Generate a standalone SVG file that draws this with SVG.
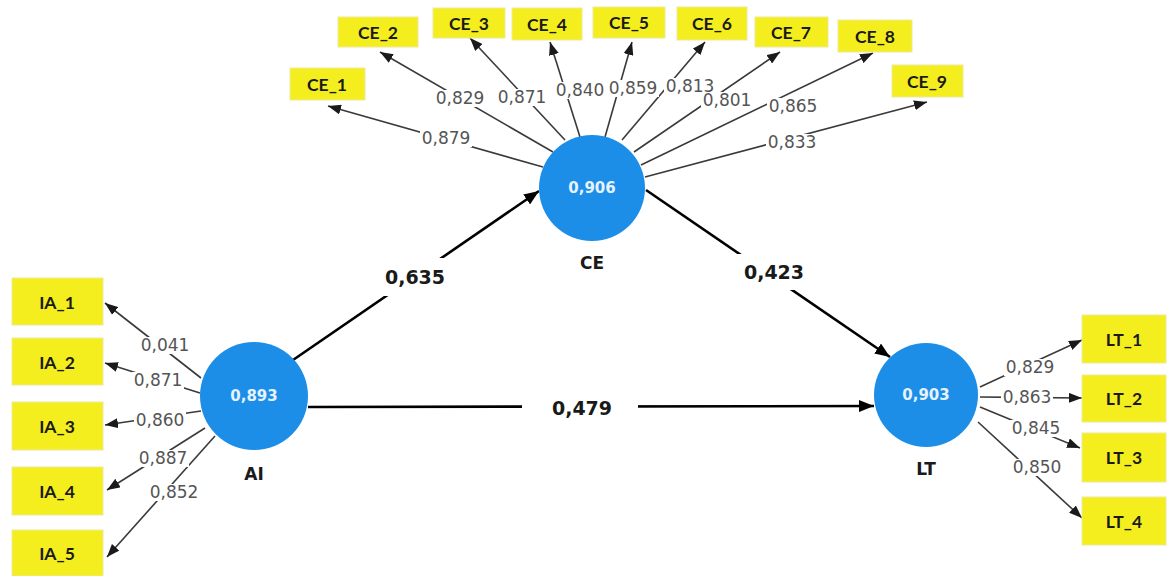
<svg xmlns="http://www.w3.org/2000/svg" width="1168" height="576" viewBox="0 0 1168 576">
<style>
.box{fill:#F4EE1E;stroke:#EDE99A;stroke-width:1}
.bt{font-family:Lato,"DejaVu Sans",sans-serif;font-weight:bold;font-size:17.5px;fill:#1a1a1a;text-anchor:middle;dominant-baseline:central}
.ln{stroke:#3a3a3a;stroke-width:1.6;fill:none}
.sl{stroke:#000;stroke-width:2.6;fill:none}
.bg{fill:#fff}
.lb{font-family:"DejaVu Sans",Verdana,sans-serif;font-size:17px;fill:#555;text-anchor:middle;dominant-baseline:central}
.pl{font-family:"DejaVu Sans",Verdana,sans-serif;font-weight:bold;font-size:19px;fill:#1a1a1a;text-anchor:middle;dominant-baseline:central}
.circ{fill:#1C8EE8}
.ct{font-family:"DejaVu Sans",Verdana,sans-serif;font-weight:bold;font-size:15px;fill:#E6F3FF;text-anchor:middle;dominant-baseline:central}
.cn{font-family:"DejaVu Sans",Verdana,sans-serif;font-weight:bold;font-size:17px;fill:#1a1a1a;text-anchor:middle;dominant-baseline:central}
</style>
<defs>
<marker id="a" markerUnits="userSpaceOnUse" markerWidth="13" markerHeight="10" refX="13" refY="5" orient="auto"><path d="M0,0 L13,5 L0,10 z" fill="#1a1a1a"/></marker>
<marker id="b" markerUnits="userSpaceOnUse" markerWidth="15" markerHeight="12" refX="15" refY="6" orient="auto"><path d="M0,0 L15,6 L0,12 z" fill="#000"/></marker>
</defs>
<rect width="1168" height="576" fill="#fff"/>
<g id="connectors">
<line class="ln" x1="543" y1="167" x2="328" y2="106" marker-end="url(#a)"/>
<line class="ln" x1="553" y1="152" x2="380" y2="52" marker-end="url(#a)"/>
<line class="ln" x1="565" y1="140" x2="470" y2="38" marker-end="url(#a)"/>
<line class="ln" x1="580" y1="137" x2="550" y2="42" marker-end="url(#a)"/>
<line class="ln" x1="605" y1="137" x2="632" y2="42" marker-end="url(#a)"/>
<line class="ln" x1="622" y1="140" x2="705" y2="42" marker-end="url(#a)"/>
<line class="ln" x1="634" y1="152" x2="780" y2="52" marker-end="url(#a)"/>
<line class="ln" x1="641" y1="165" x2="873" y2="53" marker-end="url(#a)"/>
<line class="ln" x1="645" y1="177" x2="927" y2="102" marker-end="url(#a)"/>
<line class="ln" x1="201" y1="378" x2="105" y2="303" marker-end="url(#a)"/>
<line class="ln" x1="200" y1="393" x2="105" y2="363" marker-end="url(#a)"/>
<line class="ln" x1="201" y1="411" x2="105" y2="425" marker-end="url(#a)"/>
<line class="ln" x1="205" y1="428" x2="107" y2="490" marker-end="url(#a)"/>
<line class="ln" x1="215" y1="436" x2="107" y2="557" marker-end="url(#a)"/>
<line class="ln" x1="980" y1="387" x2="1082" y2="340" marker-end="url(#a)"/>
<line class="ln" x1="980" y1="397" x2="1082" y2="398" marker-end="url(#a)"/>
<line class="ln" x1="980" y1="407" x2="1080" y2="448" marker-end="url(#a)"/>
<line class="ln" x1="978" y1="422" x2="1082" y2="518" marker-end="url(#a)"/>
<line class="sl" x1="293" y1="360" x2="539" y2="191" marker-end="url(#b)"/>
<line class="sl" x1="646" y1="190" x2="890" y2="357" marker-end="url(#b)"/>
<line class="sl" x1="308" y1="407" x2="874" y2="406" marker-end="url(#b)"/>
<rect class="bg" x="420" y="130" width="52" height="17"/>
<rect class="bg" x="434" y="90" width="52" height="17"/>
<rect class="bg" x="496" y="89" width="52" height="17"/>
<rect class="bg" x="554" y="82" width="52" height="17"/>
<rect class="bg" x="607" y="80" width="52" height="17"/>
<rect class="bg" x="664" y="78" width="52" height="17"/>
<rect class="bg" x="701" y="92" width="52" height="17"/>
<rect class="bg" x="767" y="98" width="52" height="17"/>
<rect class="bg" x="766" y="134" width="52" height="17"/>
<rect class="bg" x="139" y="337" width="52" height="17"/>
<rect class="bg" x="132" y="372" width="52" height="17"/>
<rect class="bg" x="134" y="412" width="52" height="17"/>
<rect class="bg" x="137" y="450" width="52" height="17"/>
<rect class="bg" x="148" y="484" width="52" height="17"/>
<rect class="bg" x="1004" y="359" width="52" height="17"/>
<rect class="bg" x="1001" y="389" width="52" height="17"/>
<rect class="bg" x="1010" y="420" width="52" height="17"/>
<rect class="bg" x="1011" y="459" width="52" height="17"/>
<rect class="bg" x="370" y="258" width="90" height="38"/>
<rect class="bg" x="732" y="254" width="84" height="36"/>
<rect class="bg" x="522" y="396" width="116" height="24"/>
<text class="lb" x="446" y="138">0,879</text>
<text class="lb" x="460" y="98">0,829</text>
<text class="lb" x="522" y="97">0,871</text>
<text class="lb" x="580" y="90">0,840</text>
<text class="lb" x="633" y="88">0,859</text>
<text class="lb" x="690" y="86">0,813</text>
<text class="lb" x="727" y="100">0,801</text>
<text class="lb" x="793" y="106">0,865</text>
<text class="lb" x="792" y="142">0,833</text>
<text class="lb" x="165" y="345">0,041</text>
<text class="lb" x="158" y="380">0,871</text>
<text class="lb" x="160" y="420">0,860</text>
<text class="lb" x="163" y="458">0,887</text>
<text class="lb" x="174" y="492">0,852</text>
<text class="lb" x="1030" y="367">0,829</text>
<text class="lb" x="1027" y="397">0,863</text>
<text class="lb" x="1036" y="428">0,845</text>
<text class="lb" x="1037" y="467">0,850</text>
<text class="pl" x="415" y="277">0,635</text>
<text class="pl" x="774" y="272">0,423</text>
<text class="pl" x="582" y="408">0,479</text>
</g>
<g id="CE"><circle class="circ" cx="592" cy="188" r="53"/><text class="ct" x="592" y="188">0,906</text><text class="cn" x="592" y="263">CE</text></g>
<g id="AI"><circle class="circ" cx="254" cy="396" r="54"/><text class="ct" x="254" y="396">0,893</text><text class="cn" x="254" y="474">AI</text></g>
<g id="LT"><circle class="circ" cx="926" cy="395" r="52"/><text class="ct" x="926" y="395">0,903</text><text class="cn" x="926" y="469">LT</text></g>
<g id="CE_1"><rect class="box" x="290" y="68" width="75" height="32"/><text class="bt" x="327" y="84">CE_1</text></g>
<g id="CE_2"><rect class="box" x="338" y="17" width="80" height="30"/><text class="bt" x="378" y="32">CE_2</text></g>
<g id="CE_3"><rect class="box" x="433" y="8" width="72" height="30"/><text class="bt" x="469" y="23">CE_3</text></g>
<g id="CE_4"><rect class="box" x="512" y="8" width="70" height="32"/><text class="bt" x="547" y="24">CE_4</text></g>
<g id="CE_5"><rect class="box" x="593" y="7" width="72" height="31"/><text class="bt" x="629" y="22">CE_5</text></g>
<g id="CE_6"><rect class="box" x="677" y="7" width="70" height="33"/><text class="bt" x="712" y="23">CE_6</text></g>
<g id="CE_7"><rect class="box" x="755" y="17" width="73" height="30"/><text class="bt" x="791" y="32">CE_7</text></g>
<g id="CE_8"><rect class="box" x="838" y="20" width="74" height="32"/><text class="bt" x="875" y="36">CE_8</text></g>
<g id="CE_9"><rect class="box" x="892" y="65" width="71" height="32"/><text class="bt" x="927" y="81">CE_9</text></g>
<g id="IA_1"><rect class="box" x="12" y="278" width="91" height="47"/><text class="bt" x="57" y="302">IA_1</text></g>
<g id="IA_2"><rect class="box" x="12" y="338" width="91" height="47"/><text class="bt" x="57" y="362">IA_2</text></g>
<g id="IA_3"><rect class="box" x="12" y="402" width="91" height="48"/><text class="bt" x="57" y="426">IA_3</text></g>
<g id="IA_4"><rect class="box" x="12" y="467" width="91" height="48"/><text class="bt" x="57" y="491">IA_4</text></g>
<g id="IA_5"><rect class="box" x="12" y="530" width="91" height="46"/><text class="bt" x="57" y="553">IA_5</text></g>
<g id="LT_1"><rect class="box" x="1082" y="315" width="84" height="48"/><text class="bt" x="1124" y="339">LT_1</text></g>
<g id="LT_2"><rect class="box" x="1082" y="375" width="84" height="47"/><text class="bt" x="1124" y="398">LT_2</text></g>
<g id="LT_3"><rect class="box" x="1082" y="433" width="84" height="49"/><text class="bt" x="1124" y="457">LT_3</text></g>
<g id="LT_4"><rect class="box" x="1082" y="497" width="84" height="48"/><text class="bt" x="1124" y="521">LT_4</text></g>
</svg>
